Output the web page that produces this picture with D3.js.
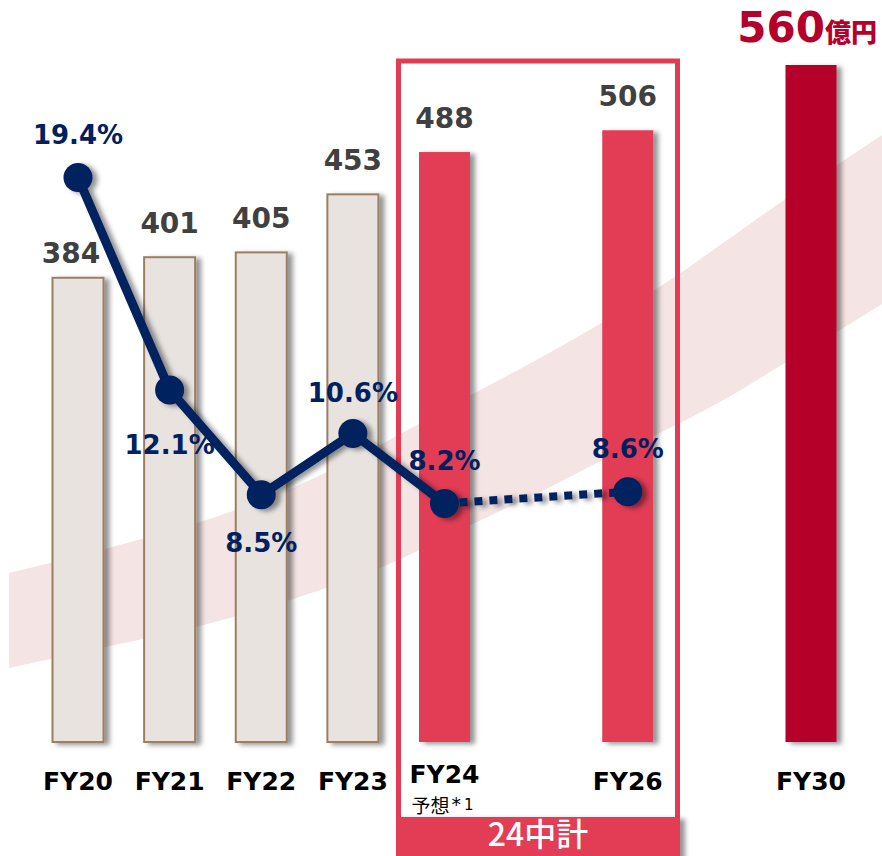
<!DOCTYPE html>
<html><head><meta charset="utf-8">
<script src="https://cdn.jsdelivr.net/npm/d3@7/dist/d3.min.js"></script>
<style>
html,body{margin:0;padding:0;background:#fff;}
svg{display:block;}
</style></head>
<body>
<svg id="chart" width="882" height="856"></svg>
<script>
// ---------- data ----------
const slots = ["FY20","FY21","FY22","FY23","FY24","_g1","FY26","_g2","FY30"];
const categories = ["FY20","FY21","FY22","FY23","FY24","FY26","FY30"];
const sales = [384, 401, 405, 453, 488, 506, 560];            // 億円
const barKind = ["actual","actual","actual","actual","plan","plan","target"];
const marginCats = ["FY20","FY21","FY22","FY23","FY24","FY26"];
const margins = [19.4, 12.1, 8.5, 10.6, 8.2, 8.6];            // %
const solidUntil = "FY24";                                     // dotted afterwards
const xSubLabel = {"FY24": ["予想", "*", "1"]};
const unitLabel = "億円";
const planLabel = "24中計";

// ---------- layout (not data) ----------
const W = 882, H = 856, baseY = 742;
const barW = 51;
const marginLabelDy = [-33, 64, 57, -32, -33, -34];
const valueLabelDx = [-7, 0, 0, 0, 0, 0, 0];
const valueLabelDy = [9, 0, 0, 0, 0, 0, 0];
const bandUpper = [[9,573],[105,549],[200,522],[290,489],[380,445],[460,401],[540,358],[603,322],[673,278],[740,231],[787,198],[840,163],[882,135]];
const bandLower = [[9,668],[105,647],[200,626],[290,600],[380,568],[460,530],[540,492],[603,460],[680,423],[727,398],[780,366],[840,330],[882,304]];

const colors = {actual:"#e8e3df", plan:"#e23c55", target:"#b5002b"};
const navy = "#00205f";

const svg = d3.select("#chart");
const defs = svg.append("defs");
const f = defs.append("filter").attr("id","sh").attr("x","-30%").attr("y","-10%").attr("width","160%").attr("height","130%");
f.append("feDropShadow").attr("dx",5).attr("dy",2).attr("stdDeviation",2.5).attr("flood-color","#000").attr("flood-opacity",0.42);

// scales
const x = d3.scalePoint().domain(slots).range([78, 811]);
const yBar = d3.scaleLinear().domain([0, 560]).range([baseY, 65]);
const yPct = d3.scaleLinear().domain([0, 20]).range([baseY, 160]);

// trend band (decoration)
const upperPath = d3.line().curve(d3.curveCatmullRom)(bandUpper);
const lowerPath = d3.line().curve(d3.curveCatmullRom)(bandLower.slice().reverse());
svg.append("path")
  .attr("d", upperPath + "L" + lowerPath.slice(1) + "Z")
  .attr("fill","#f4e4e4");

// axis baseline
svg.append("line").attr("x1",33).attr("x2",860).attr("y1",baseY).attr("y2",baseY)
  .attr("stroke","#d4d4d4").attr("stroke-width",2.5).attr("filter","url(#sh)");

// plan box (24中計)
const boxL = 396, boxR = 680;
svg.append("rect").attr("x",boxL+2.5).attr("y",61).attr("width",boxR-boxL-5).attr("height",770)
  .attr("fill","none").attr("stroke","#e23c55").attr("stroke-width",5);

// bars
const barData = categories.map((c,i)=>({c, v:sales[i], k:barKind[i], i}));
svg.append("g").selectAll("rect").data(barData).join("rect")
  .attr("x", d=>x(d.c)-barW/2)
  .attr("y", d=>yBar(d.v))
  .attr("width", barW)
  .attr("height", d=>yBar(0)-yBar(d.v))
  .attr("fill", d=>colors[d.k])
  .attr("stroke", d=>d.k==="actual" ? "#9c7f63" : "none")
  .attr("stroke-width", 2)
  .attr("filter","url(#sh)");

// plan label box
svg.append("rect").attr("x",boxL).attr("y",817).attr("width",boxR-boxL).attr("height",50)
  .attr("fill","#e23c55").attr("filter","url(#sh)");
svg.append("text").attr("x",(boxL+boxR)/2).attr("y",846).attr("text-anchor","middle")
  .attr("font-family","'Noto Sans CJK JP', sans-serif").attr("font-weight",500)
  .attr("font-size",32).attr("fill","#fff").text(planLabel);

// value labels
const vl = svg.append("g").attr("font-family","'DejaVu Sans', Verdana, sans-serif").attr("font-weight","bold");
barData.forEach(d=>{
  if (d.k === "target") {
    const t = vl.append("text").attr("x", x(d.c)+66).attr("y", yBar(d.v)-23)
      .attr("text-anchor","end").attr("fill","#b5002b");
    t.append("tspan").attr("font-size",42).text(d.v);
    t.append("tspan").attr("font-size",26).attr("font-family","'Noto Sans CJK JP', sans-serif").attr("font-weight",900).text(unitLabel);
  } else {
    vl.append("text").attr("x", x(d.c)+valueLabelDx[d.i]).attr("y", yBar(d.v)-24+valueLabelDy[d.i])
      .attr("text-anchor","middle").attr("font-size",28).attr("fill","#404040").text(d.v);
  }
});

// margin line
const pts = marginCats.map((c,i)=>({c, v:margins[i], i}));
const splitIdx = marginCats.indexOf(solidUntil);
const line = d3.line().x(d=>x(d.c)).y(d=>yPct(d.v));
const lg = svg.append("g").attr("filter","url(#sh)");
lg.append("path").attr("d", line(pts.slice(0, splitIdx+1)))
  .attr("fill","none").attr("stroke",navy).attr("stroke-width",9).attr("stroke-linejoin","round");
lg.append("path").attr("d", line(pts.slice(splitIdx)))
  .attr("fill","none").attr("stroke",navy).attr("stroke-width",8).attr("stroke-dasharray","8,7");
lg.selectAll("circle").data(pts).join("circle")
  .attr("cx", d=>x(d.c)).attr("cy", d=>yPct(d.v)).attr("r",14.5).attr("fill",navy);

// margin labels
svg.append("g").selectAll("text").data(pts).join("text")
  .attr("x", d=>x(d.c)).attr("y", d=>yPct(d.v)+marginLabelDy[d.i])
  .attr("text-anchor","middle")
  .attr("font-family","'DejaVu Sans', Verdana, sans-serif").attr("font-weight","bold")
  .attr("font-size",26).attr("fill",navy)
  .text(d=>d3.format(".1f")(d.v)+"%");

// x labels
const xl = svg.append("g").attr("font-family","'DejaVu Sans', Verdana, sans-serif");
categories.forEach(c=>{
  const sub = xSubLabel[c];
  xl.append("text").attr("x", x(c)).attr("y", sub ? 783 : 790).attr("text-anchor","middle")
    .attr("font-weight","bold").attr("font-size",25).attr("fill","#000").text(c);
  if (sub) {
    const t = xl.append("text").attr("x", x(c)-33).attr("y", 813).attr("fill","#000");
    t.append("tspan").attr("font-family","'Noto Sans CJK JP', sans-serif").attr("font-size",19).text(sub[0]);
    t.append("tspan").attr("font-size",19).attr("dx",2).attr("dy",-2).text(sub[1]);
    t.append("tspan").attr("font-size",15).attr("dx",3).attr("dy",-1).text(sub[2]);
  }
});
</script>
</body></html>
